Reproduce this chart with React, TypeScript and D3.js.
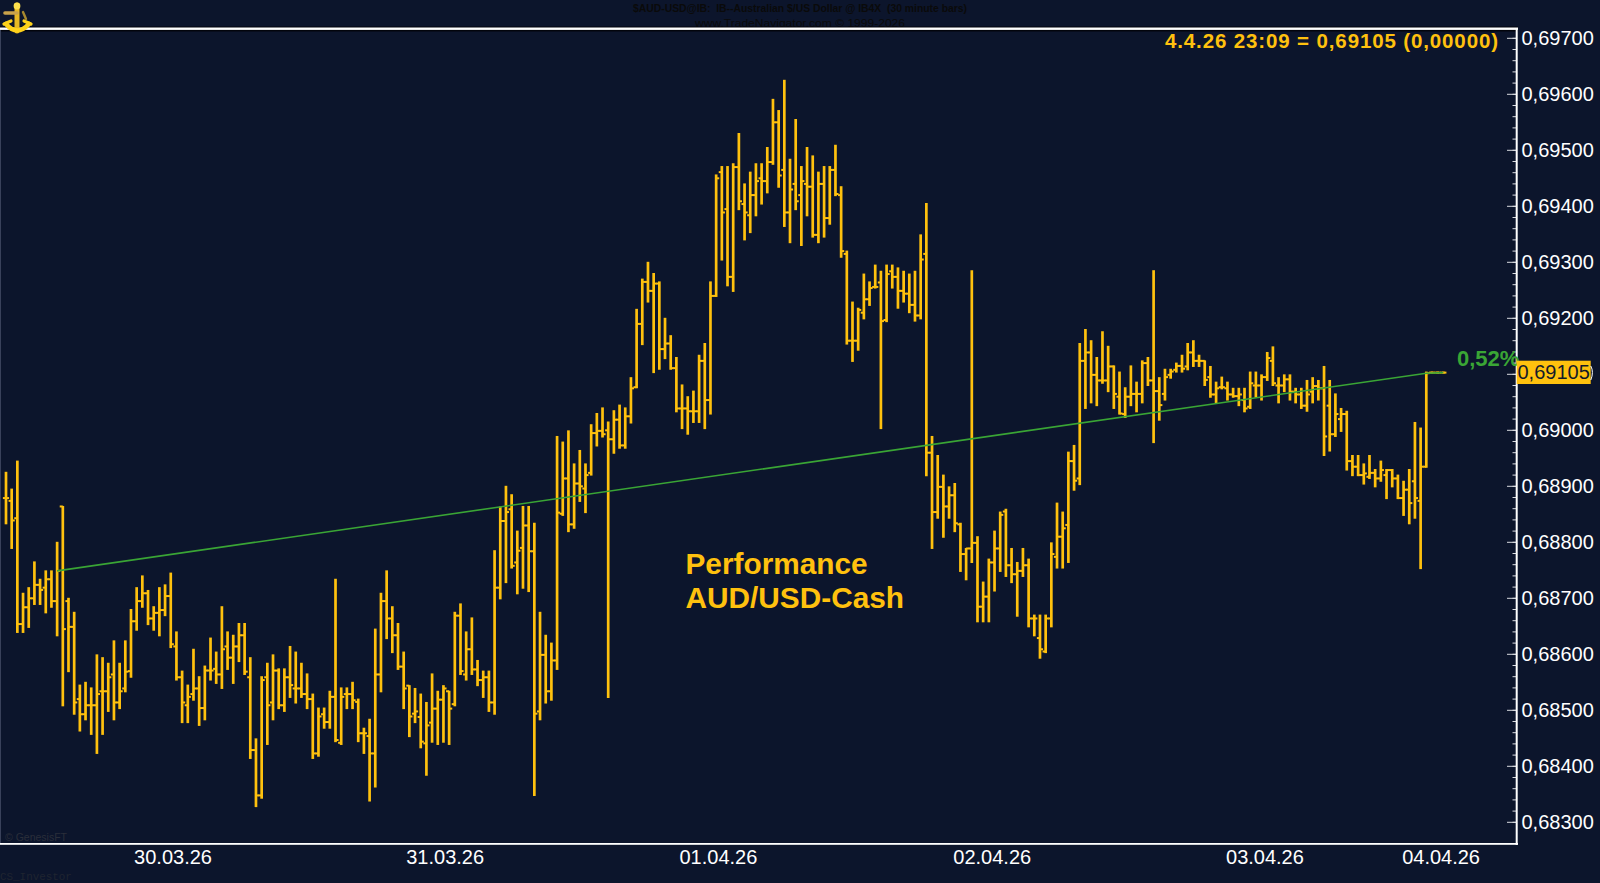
import React, { useMemo } from "react";
import * as d3 from "d3";

// Prices are in 1/100000 of a US dollar (68925 = 0,68925).
const highs = [
68925,68895,68945,68709,68719,68765,68734,68749,68749,68800,
68864,68700,68675,68545,68550,68540,68599,68594,68584,68624,
68584,68624,68680,68719,68740,68714,68685,68719,68724,68745,
68640,68570,68545,68609,68560,68579,68629,68604,68685,68640,
68634,68655,68655,68594,68449,68560,68584,68599,68574,68574,
68614,68604,68584,68565,68529,68504,68504,68534,68734,68540,
68540,68550,68520,68468,68484,68645,68709,68749,68685,68655,
68604,68544,68539,68529,68514,68565,68534,68544,68534,68675,
68690,68640,68665,68589,68570,68570,68785,68863,68900,68885,
68820,68864,68864,68834,68675,68634,68620,68989,68979,68999,
68940,68964,68940,69010,69030,69040,69015,69035,69045,69040,
69094,69216,69270,69300,69280,69265,69200,69169,69130,69081,
69060,69070,69134,69155,69265,69456,69471,69471,69476,69530,
69440,69461,69476,69476,69505,69591,69571,69625,69484,69555,
69471,69505,69490,69461,69471,69471,69509,69435,69320,69229,
69218,69279,69265,69295,69284,69295,69295,69290,69284,69279,
69284,69349,
69405,68989,68955,68920,68899,68905,68834,68789,69285,68810,
68729,68770,68820,68854,68859,68789,68764,68789,68770,68670,
68670,68670,68799,68870,68854,68961,68973,69155,69180,69160,
69130,69176,69150,69115,69104,69076,69115,69086,69124,69130,
69285,69094,69109,69109,69120,69134,69155,69160,69134,
69124,69114,69086,69095,69086,69075,69075,69075,69104,69104,
69099,69139,69149,69094,69099,69099,69075,69075,69089,69094,
69089,69114,69089,69065,69039,69034,68955,68955,68940,68955,
68930,68945,68930,68930,68920,68909,68930,69014,69004,69104,
69104,69104,69104];

const lows = [
68833,68789,68639,68639,68648,68689,68689,68674,68684,68633,
68508,68569,68493,68463,68483,68457,68423,68457,68498,68483,
68503,68533,68559,68643,68684,68653,68643,68633,68669,68612,
68554,68478,68478,68518,68473,68483,68554,68548,68539,68573,
68548,68587,68564,68414,68328,68343,68439,68483,68503,68498,
68523,68513,68523,68503,68414,68418,68468,68468,68444,68439,
68503,68503,68444,68423,68338,68363,68533,68628,68603,68573,
68503,68453,68478,68433,68384,68443,68439,68443,68439,68508,
68564,68554,68564,68544,68523,68498,68493,68699,68728,68754,
68708,68718,68712,68348,68483,68513,68518,68573,68848,68819,
68825,68873,68853,68920,68972,68988,68523,68959,68968,68968,
69013,69076,69153,69229,69103,69109,69128,69109,69033,69003,
68993,69014,69014,69003,69029,69239,69304,69258,69248,69394,
69340,69353,69383,69404,69424,69475,69434,69364,69335,69394,
69330,69383,69345,69335,69345,69368,69419,69309,69154,69123,
69143,69199,69223,69254,69003,69194,69254,69218,69229,69210,
69195,69199,
68919,68789,68843,68809,68843,68819,68748,68733,68764,68658,
68658,68658,68713,68748,68739,68728,68668,68739,68649,68633,
68593,68603,68649,68754,68754,68764,68893,68903,69039,69049,
69044,69084,69069,69039,69029,69023,69044,69033,69049,69080,
68978,69018,69054,69093,69104,69104,69108,69114,69114,
69080,69059,69049,69074,69054,69059,69044,69033,69039,69059,
69054,69089,69080,69049,69069,69054,69049,69039,69034,69049,
69054,68955,68963,68989,68998,68929,68919,68919,68904,68914,
68899,68909,68878,68899,68878,68848,68833,68843,68753,68934,
69102,69102,69102];

const opens = [
68879,68874,68843,68654,68684,68700,68724,68719,68734,68695,
68864,68695,68649,68520,68493,68509,68509,68534,68534,68564,
68514,68539,68570,68659,68695,68709,68664,68674,68679,68704,
68614,68559,68509,68529,68539,68504,68571,68574,68564,68614,
68594,68614,68634,68559,68429,68348,68559,68514,68571,68509,
68559,68539,68539,68529,68520,68423,68493,68479,68524,68442,
68529,68529,68515,68459,68454,68423,68564,68695,68664,68634,
68578,68544,68494,68488,68441,68478,68503,68519,68534,68511,
68669,68564,68609,68573,68554,68559,68514,68719,68838,68859,
68764,68790,68830,68784,68498,68599,68534,68589,68851,68914,
68832,68905,68896,68924,68995,68999,69000,68984,69019,68973,
69025,69077,69190,69265,69249,69262,69145,69155,69111,69039,
69039,69034,69034,69124,69054,69240,69461,69395,69274,69470,
69404,69384,69420,69450,69445,69479,69550,69465,69389,69440,
69420,69440,69435,69349,69440,69379,69465,69420,69315,69160,
69160,69210,69234,69256,69264,69197,69284,69274,69249,69244,
69224,69205,
69315,68960,68854,68899,68864,68884,68832,68779,68789,68799,
68685,68703,68764,68789,68855,68759,68743,68749,68759,68664,
68629,68605,68664,68774,68810,68831,68945,68914,69124,69139,
69099,69089,69089,69114,69060,69029,69060,69065,69065,69120,
69089,69070,69065,69099,69108,69115,69114,69139,69124,
69124,69095,69064,69077,69075,69064,69061,69054,69042,69080,
69080,69095,69124,69080,69080,69091,69069,69064,69044,69069,
69079,69075,69044,68993,69020,69029,68945,68935,68920,68917,
68924,68914,68920,68929,68914,68879,68894,68909,68874,68935,
69103,69103,69103];

const closes = [
68879,68839,68654,68684,68700,68724,68715,68734,68695,68749,
68645,68649,68514,68493,68509,68509,68529,68534,68559,68514,
68534,68569,68659,68695,68709,68664,68674,68679,68704,68618,
68559,68514,68524,68539,68504,68571,68571,68564,68609,68594,
68614,68634,68569,68429,68348,68554,68509,68571,68509,68559,
68545,68539,68529,68520,68423,68489,68479,68524,68447,68524,
68529,68518,68459,68459,68423,68564,68695,68664,68634,68578,
68539,68489,68498,68444,68473,68503,68519,68539,68503,68669,
68570,68609,68573,68554,68559,68514,68719,68838,68854,68758,
68785,68830,68784,68494,68599,68534,68589,68853,68914,68832,
68905,68900,68920,68995,68999,68993,68984,69019,68973,69025,
69075,69190,69265,69249,69262,69145,69155,69111,69039,69039,
69034,69034,69124,69054,69240,69450,69389,69274,69470,69409,
69389,69420,69445,69445,69479,69550,69455,69389,69430,69409,
69445,69435,69349,69440,69379,69465,69422,69320,69160,69160,
69215,69234,69254,69256,69195,69279,69274,69249,69244,69224,
69205,69305,
68960,68854,68899,68864,68884,68834,68779,68789,68799,68685,
68703,68764,68789,68849,68759,68743,68749,68759,68664,68664,
68609,68664,68779,68810,68825,68945,68910,69124,69139,69099,
69089,69089,69114,69065,69030,69060,69065,69065,69120,69089,
69070,69045,69095,69105,69115,69110,69139,69124,69124,
69090,69064,69075,69077,69064,69061,69064,69039,69084,69080,
69095,69129,69084,69080,69091,69069,69064,69044,69064,69079,
69075,68989,68993,69029,69029,68945,68935,68920,68923,68924,
68914,68929,68929,68914,68879,68894,68870,68879,68935,69102,
69103,69103,69103];

const majorTicks = [69700,69600,69500,69400,69300,69200,69100,69000,68900,68800,68700,68600,68500,68400,68300];
const hiddenLabel = 69100; // covered by the last-price tag in the picture
const minorStart = 68300;
const minorEnd = 69700;
const minorStep = 20;
const dateTicks = [
  { label: "30.03.26", bar: 29.4 },
  { label: "31.03.26", bar: 77.3 },
  { label: "01.04.26", bar: 125.4 },
  { label: "02.04.26", bar: 173.6 },
  { label: "03.04.26", bar: 221.6 },
  { label: "04.04.26", bar: 252.6 },
];
const trendIndex = [9, 250, 253];
const trendValues = [68749, 69102, 69103];
const lastBarIndex = 250;

const title1 = "$AUD-USD@IB:  IB--Australian $/US Dollar @ IB4X  (30 minute bars)";
const title2 = "www.TradeNavigator.com \u00A9 1999-2026";
const readout = "4.4.26 23:09 = 0,69105 (0,00000)";
const lastPrice = "0,69105";
const perf = "0,52%";
const note = ["Performance", "AUD/USD-Cash"];

const BG = "#0c152c";
const GOLD = "#ffc10e";
const GREEN = "#3aa535";
const SANS = "'Liberation Sans', Arial, sans-serif";

const fmt = (v: number) => (v / 100000).toFixed(5).replace(".", ",");

export default function App() {
  const x = useMemo(() => d3.scaleLinear().domain([0, lastBarIndex]).range([6, 1426.3]), []);
  const y = useMemo(() => d3.scaleLinear().domain([69700, 68300]).range([38.3, 822.3]), []);
  const trend = d3.line<number>().x((d) => x(d)).y((_, i) => y(trendValues[i]));
  const minors = d3.range(minorStart, minorEnd + 1, minorStep);
  return (
    <svg
      width={1600}
      height={883}
      style={{ position: "fixed", left: 0, top: 0, display: "block", background: BG }}
    >
      <rect width={1600} height={883} fill={BG} />

      <g fill="#0a0a0a" fontFamily={SANS} fontSize={10.5} textAnchor="middle" fontWeight="bold">
        <text x={800} y={12} textLength={334} lengthAdjust="spacingAndGlyphs" xmlSpace="preserve">{title1}</text>
        <text x={800} y={27} fontWeight="normal" textLength={210} lengthAdjust="spacingAndGlyphs">{title2}</text>
      </g>

      <rect x={0} y={26.5} width={1518} height={5} fill="#02040c" />
      <rect x={0} y={27.5} width={1518} height={2.4} fill="#ffffff" />
      <rect x={0} y={30} width={1} height={814} fill="#39415a" />

      {/* anchor logo */}
      <g stroke={GOLD} fill="none" strokeLinecap="round">
        <path d="M17 5 L17 31" stroke="#e8b923" strokeWidth={5} />
        <circle cx={17} cy={6} r={3.4} fill="#ffe14d" stroke="none" />
        <path d="M5 13 L17 13" stroke="#c9a24a" strokeWidth={3.6} />
        <path d="M6 24 Q17 37 29 24" stroke="#ffd21a" strokeWidth={4.6} />
        <path d="M4 24 L11 21 M31 24 L24 21" stroke="#ffd21a" strokeWidth={3.2} />
        <path d="M23 12 L26 19" stroke="#a8892f" strokeWidth={2.4} />
      </g>

      {/* price axis */}
      <g stroke="#ffffff">
        {minors.map((v) => (
          <line key={v} x1={1512.5} x2={1516} y1={y(v)} y2={y(v)} strokeWidth={1} stroke="#d9dbe0" />
        ))}
        {majorTicks.map((v) => (
          <line key={v} x1={1507} x2={1516} y1={y(v)} y2={y(v)} strokeWidth={1} stroke="#d9dbe0" />
        ))}
      </g>
      <g fill="#ffffff" fontFamily={SANS} fontSize={20}>
        {majorTicks.filter((v) => v !== hiddenLabel).map((v) => (
          <text key={v} x={1521.5} y={y(v) + 7}>{fmt(v)}</text>
        ))}
      </g>

      {/* bars */}
      <g stroke={GOLD}>
        {highs.map((h, i) => (
          <g key={i}>
            <line x1={x(i)} x2={x(i)} y1={y(h) - 0.5} y2={y(lows[i]) + 0.5} strokeWidth={2.7} />
            <line x1={x(i) - 3.1} x2={x(i)} y1={y(opens[i])} y2={y(opens[i])} strokeWidth={2} />
            <line x1={x(i)} x2={x(i) + 3.1} y1={y(closes[i])} y2={y(closes[i])} strokeWidth={2} />
          </g>
        ))}
      </g>

      {/* trend */}
      <path d={trend(trendIndex) ?? ""} fill="none" stroke={GREEN} strokeWidth={1.6} />

      <text x={685.5} y={573.5} fill={GOLD} fontFamily={SANS} fontWeight="bold" fontSize={29.8}>{note[0]}</text>
      <text x={685.5} y={608} fill={GOLD} fontFamily={SANS} fontWeight="bold" fontSize={29.8}>{note[1]}</text>

      <text x={1498} y={47.5} textAnchor="end" fill={GOLD} fontFamily={SANS} fontWeight="bold" fontSize={20.5} textLength={333} lengthAdjust="spacing">{readout}</text>

      {/* frame */}
      <rect x={1515.7} y={28} width={2} height={817} fill="#ffffff" />
      <rect x={0} y={843} width={1518} height={1.8} fill="#ffffff" />

      <text x={1457} y={366} fill={GREEN} fontFamily={SANS} fontWeight="bold" fontSize={22}>{perf}</text>

      {/* last price tag */}
      <rect x={1516.7} y={360.7} width={74} height={23.3} fill={GOLD} />
      <path d="M1590.8 366 Q1594 372 1590.8 380" fill="none" stroke="#ffffff" strokeWidth={1} />
      <text x={1517.5} y={379} fill="#141a2a" fontFamily={SANS} fontSize={20}>{lastPrice}</text>

      <g fill="#ffffff" fontFamily={SANS} fontSize={20} textAnchor="middle">
        {dateTicks.map((d) => (
          <text key={d.label} x={x(d.bar)} y={864}>{d.label}</text>
        ))}
      </g>

      <text x={5} y={841} fill="#2a2e3a" fontFamily={SANS} fontSize={10.5}>{"\u00A9 GenesisFT"}</text>
      <text x={0} y={880} fill="#1f2430" fontFamily="'Liberation Mono', monospace" fontSize={10.9}>CS_Investor</text>
    </svg>
  );
}
